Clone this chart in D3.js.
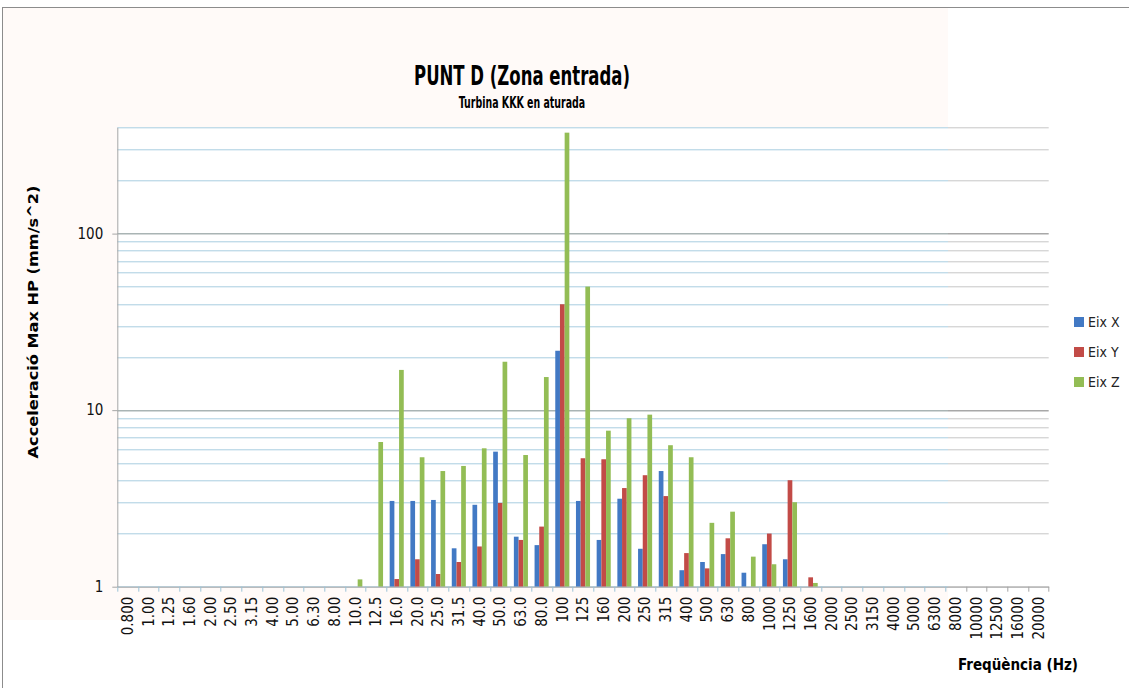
<!DOCTYPE html>
<html>
<head>
<meta charset="utf-8">
<script src="https://cdnjs.cloudflare.com/ajax/libs/d3/7.8.5/d3.min.js"></script>
<style>
  body { margin: 0; background: #fff; }
  text { font-family: "DejaVu Sans Condensed", "DejaVu Sans", sans-serif; }
</style>
</head>
<body>
<div id="chart"></div>
<script>
// third-octave bands (Hz)
var categories = ["0.800","1.00","1.25","1.60","2.00","2.50","3.15","4.00","5.00","6.30","8.00",
  "10.0","12.5","16.0","20.0","25.0","31.5","40.0","50.0","63.0","80.0","100","125","160",
  "200","250","315","400","500","630","800","1000","1250","1600","2000","2500","3150","4000",
  "5000","6300","8000","10000","12500","16000","20000"];

var seriesNames = ["Eix X", "Eix Y", "Eix Z"];

var eixX = [null,null,null,null,null,null,null,null,null,null,null,null,null,
  3.06,3.06,3.10,1.65,2.91,5.82,1.92,1.72,21.7,3.06,1.84,3.15,1.64,4.52,1.24,1.38,1.53,1.20,1.74,1.43,
  null,null,null,null,null,null,null,null,null,null,null,null];
var eixY = [null,null,null,null,null,null,null,null,null,null,null,null,null,
  1.105,1.43,1.18,1.38,1.69,2.98,1.84,2.19,39.8,5.34,5.27,3.62,4.28,3.26,1.55,1.27,1.88,null,2.0,4.01,
  1.13,null,null,null,null,null,null,null,null,null,null,null];
var eixZ = [null,null,null,null,null,null,null,null,null,null,null,1.10,6.6,
  16.9,5.41,4.52,4.83,6.08,18.8,5.57,15.4,373,50.1,7.65,9.0,9.43,6.33,5.41,2.30,2.66,1.48,1.34,3.01,
  1.05,null,null,null,null,null,null,null,null,null,null,null];

var yTickLabels = [1, 10, 100];
var colors = ["#4279c4", "#c24b47", "#93bd55"];

var W = 1129, H = 688;
var margin = {top: 127.3, right: 80.3, bottom: 101.3, left: 117.3},
    width = W - margin.left - margin.right,
    height = H - margin.top - margin.bottom;

var svg = d3.select("#chart").append("svg")
    .attr("width", W)
    .attr("height", H);

// frame of the chart object
svg.append("rect")
    .attr("x", 2.5).attr("y", 7.5)
    .attr("width", W).attr("height", H)
    .attr("fill", "#fff")
    .attr("stroke", "#8c8c8c");

// faint tinted area of the original picture
svg.append("rect")
    .attr("x", 3).attr("y", 8)
    .attr("width", 945).attr("height", 612)
    .attr("fill", "#fffaf8");

var g = svg.append("g")
    .attr("transform", "translate(" + margin.left + "," + margin.top + ")");

var x0 = d3.scaleBand()
    .domain(categories)
    .range([0, width])
    .padding(0);

var x1 = d3.scaleBand()
    .domain(seriesNames)
    .range([x0.bandwidth() * 0.16, x0.bandwidth() * 0.84]);

var y = d3.scaleLog()
    .domain([1, 400])
    .range([height, 0]);

g.append("rect")
    .attr("width", width).attr("height", height)
    .attr("fill", "#fff");

// gridlines
var gridVals = [];
[1, 10, 100].forEach(function(d){
  for (var k = 1; k <= 9; k++) if (d * k <= 400) gridVals.push(d * k);
});
var splitX = 948 - margin.left;

g.selectAll(".grid-left")
    .data(gridVals)
  .enter().append("line")
    .attr("x1", 0).attr("x2", splitX)
    .attr("y1", function(d){ return Math.round(y(d)) + 0.5; })
    .attr("y2", function(d){ return Math.round(y(d)) + 0.5; })
    .attr("stroke", function(d){ return (d === 10 || d === 100) ? "#a9b4b4" : "#a9cde0"; })
    .attr("stroke-width", function(d){ return (d === 10 || d === 100) ? 1.6 : 1; });

g.selectAll(".grid-right")
    .data(gridVals)
  .enter().append("line")
    .attr("x1", splitX).attr("x2", width)
    .attr("y1", function(d){ return Math.round(y(d)) + 0.5; })
    .attr("y2", function(d){ return Math.round(y(d)) + 0.5; })
    .attr("stroke", function(d){ return (d === 10 || d === 100) ? "#a8a8a8" : "#c6c6c6"; })
    .attr("stroke-width", function(d){ return (d === 10 || d === 100) ? 1.6 : 1; });

// bars
var seriesData = [eixX, eixY, eixZ];
var rows = categories.map(function(c, i){
  return {cat: c, vals: seriesNames.map(function(s, j){ return {name: s, idx: j, v: seriesData[j][i]}; })};
});

var groups = g.selectAll(".cat")
    .data(rows)
  .enter().append("g")
    .attr("class", "cat")
    .attr("transform", function(d){ return "translate(" + x0(d.cat) + ",0)"; });

groups.selectAll("rect")
    .data(function(d){ return d.vals.filter(function(v){ return v.v != null; }); })
  .enter().append("rect")
    .attr("x", function(d){ return x1(d.name); })
    .attr("width", x1.bandwidth())
    .attr("y", function(d){ return y(d.v); })
    .attr("height", function(d){ return height - y(d.v); })
    .attr("fill", function(d){ return colors[d.idx]; });

// x axis
var xAxis = d3.axisBottom(x0).tickSize(0).tickSizeOuter(0);
var xg = g.append("g")
    .attr("transform", "translate(0," + height + ")")
    .call(xAxis);
xg.select(".domain").attr("stroke", "#a6a6a6");
xg.selectAll("text")
    .attr("transform", "rotate(-90)")
    .attr("x", -10)
    .attr("y", 0)
    .attr("dy", "0.35em")
    .style("text-anchor", "end")
    .style("font-size", "15px")
    .attr("fill", "#111");

// category boundary ticks
g.selectAll(".xtick")
    .data(d3.range(categories.length + 1))
  .enter().append("line")
    .attr("x1", function(i){ return Math.round(i * x0.bandwidth()) + 0.5; })
    .attr("x2", function(i){ return Math.round(i * x0.bandwidth()) + 0.5; })
    .attr("y1", height).attr("y2", height + 5)
    .attr("stroke", function(i){ return i * x0.bandwidth() < splitX ? "#9cc3d8" : "#a6a6a6"; });

// y axis
var yAxis = d3.axisLeft(y)
    .tickValues(yTickLabels)
    .tickFormat(d3.format("d"))
    .tickSize(5)
    .tickSizeOuter(0);
var yg = g.append("g").call(yAxis);
yg.select(".domain").attr("stroke", "#a6a6a6");
yg.selectAll(".tick line").attr("stroke", "#a6a6a6");
yg.selectAll("text")
    .attr("x", -14)
    .style("font-size", "15px")
    .attr("fill", "#111");

// titles (the source picture is squeezed horizontally)
svg.append("text")
    .attr("transform", "translate(522,85) scale(0.68,1)")
    .attr("text-anchor", "middle")
    .style("font-size", "27px")
    .style("font-weight", "bold")
    .text("PUNT D (Zona entrada)");

svg.append("text")
    .attr("transform", "translate(522,108) scale(0.7,1)")
    .attr("text-anchor", "middle")
    .style("font-size", "15px")
    .style("font-weight", "bold")
    .text("Turbina KKK en aturada");

svg.append("text")
    .attr("transform", "translate(38,322) scale(0.78,1) rotate(-90)")
    .attr("text-anchor", "middle")
    .style("font-size", "18px")
    .style("font-weight", "bold")
    .text("Acceleració Max HP (mm/s^2)");

svg.append("text")
    .attr("x", 1078).attr("y", 670)
    .attr("text-anchor", "end")
    .style("font-size", "15px")
    .style("font-weight", "bold")
    .text("Freqüència (Hz)");

// legend
var legend = svg.selectAll(".legend")
    .data(seriesNames)
  .enter().append("g")
    .attr("transform", function(d, i){ return "translate(1074," + (317 + i * 30) + ")"; });
legend.append("rect")
    .attr("width", 10).attr("height", 10)
    .attr("fill", function(d, i){ return colors[i]; });
legend.append("text")
    .attr("x", 14).attr("y", 5)
    .attr("dy", "0.35em")
    .style("font-size", "14px")
    .attr("fill", "#222")
    .text(function(d){ return d; });
</script>
</body>
</html>
